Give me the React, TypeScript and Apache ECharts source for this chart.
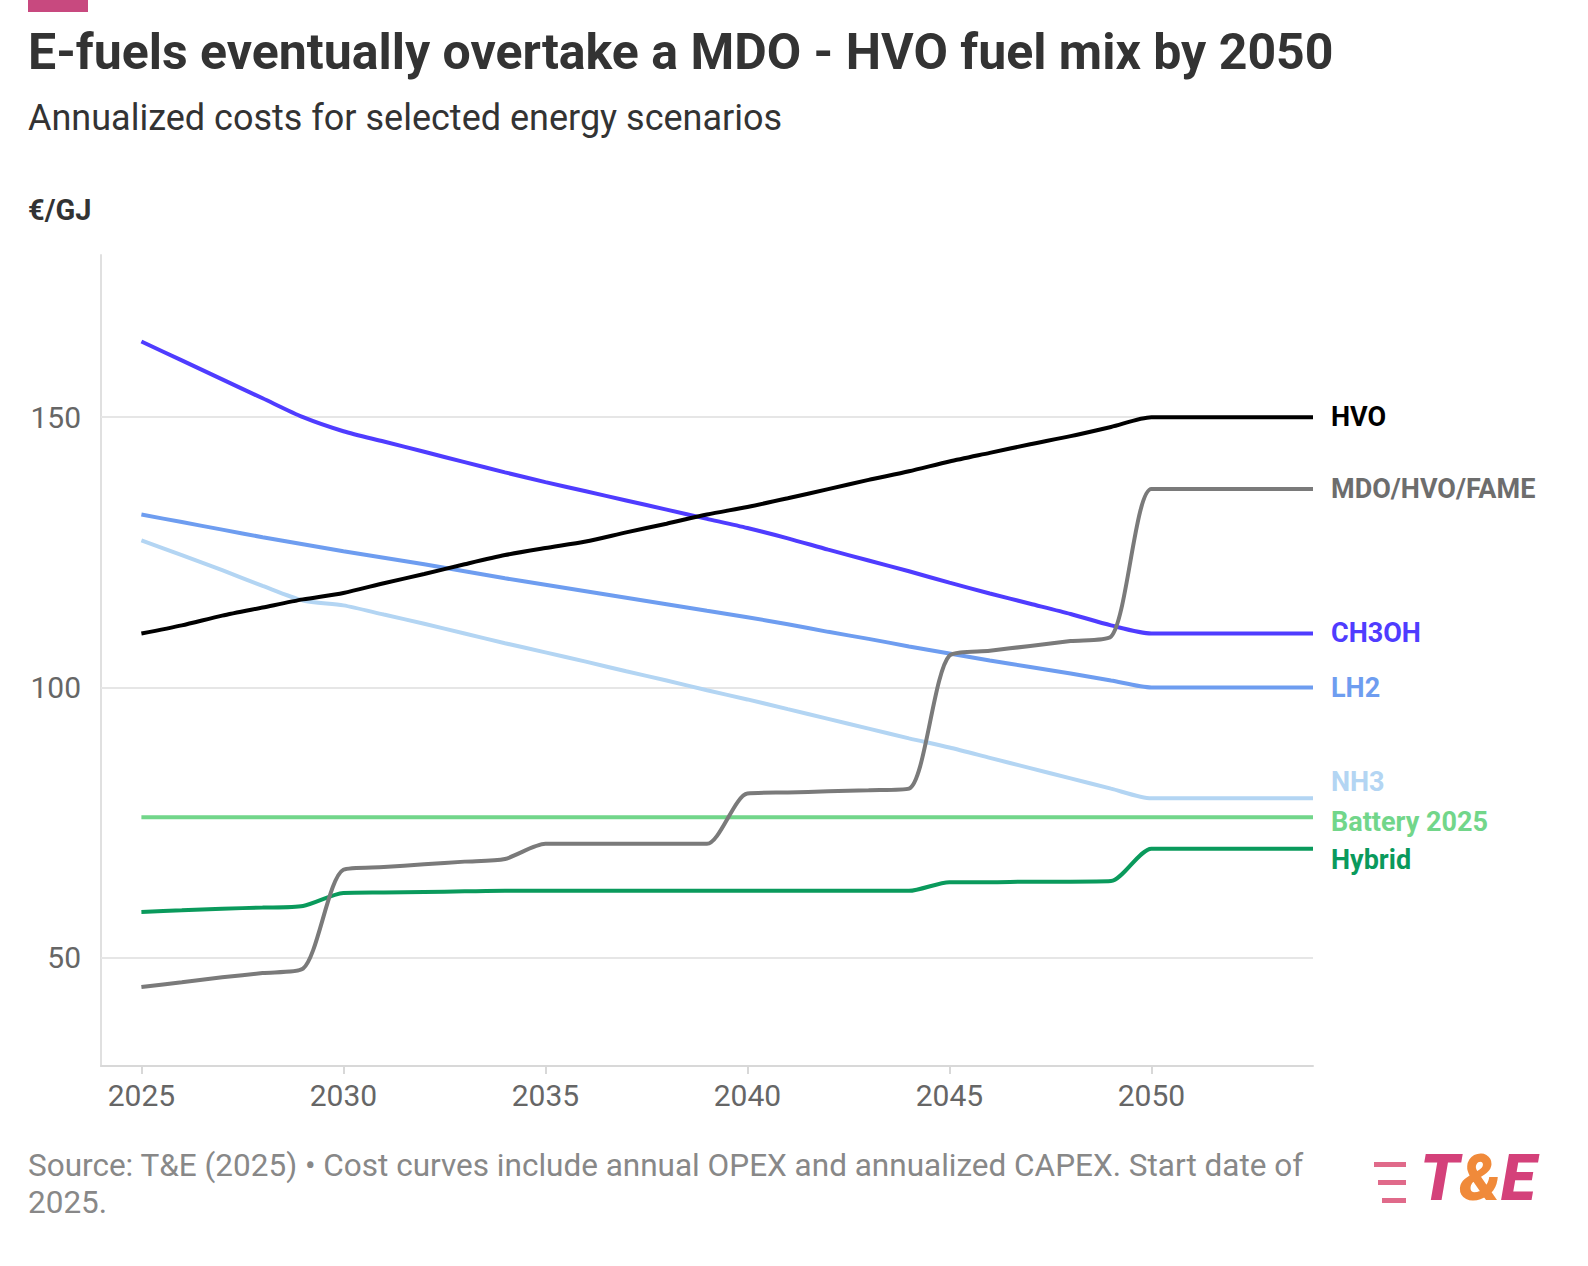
import { useEffect, useRef } from "react";
import * as echarts from "echarts";

const years = [2025, 2026, 2027, 2028, 2029, 2030, 2031, 2032, 2033, 2034, 2035, 2036, 2037, 2038, 2039, 2040, 2041, 2042, 2043, 2044, 2045, 2046, 2047, 2048, 2049, 2050, 2051, 2052, 2053, 2054];

const hvo = [110, 111.5, 113.3, 114.8, 116.3, 117.5, 119.3, 121, 122.8, 124.5, 125.8, 127, 128.7, 130.3, 132, 133.4, 135, 136.7, 138.4, 140, 141.8, 143.4, 145, 146.5, 148.2, 150, 150, 150, 150, 150];
const ch3oh = [164, 160.5, 157, 153.5, 150, 147.4, 145.5, 143.6, 141.7, 139.8, 138, 136.3, 134.6, 132.9, 131.2, 129.5, 127.6, 125.5, 123.5, 121.5, 119.4, 117.4, 115.5, 113.6, 111.5, 110, 110, 110, 110, 110];
const lh2 = [132, 130.6, 129.2, 127.8, 126.5, 125.2, 124, 122.8, 121.5, 120.2, 119, 117.8, 116.6, 115.4, 114.2, 113, 111.7, 110.3, 109, 107.6, 106.3, 105, 103.8, 102.6, 101.3, 100, 100, 100, 100, 100];
const nh3 = [127.2, 124.5, 121.7, 118.8, 116.1, 115.2, 113.5, 111.8, 110, 108.2, 106.5, 104.8, 103, 101.3, 99.5, 97.8, 96, 94.2, 92.4, 90.6, 88.9, 87, 85.1, 83.2, 81.3, 79.5, 79.5, 79.5, 79.5, 79.5];
const battery = years.map(() => 76);
const hybrid = [58.5, 58.8, 59.1, 59.3, 59.6, 62, 62.1, 62.2, 62.3, 62.4, 62.4, 62.4, 62.4, 62.4, 62.4, 62.4, 62.4, 62.4, 62.4, 62.4, 64, 64, 64.1, 64.1, 64.2, 70.2, 70.2, 70.2, 70.2, 70.2];
const mdo = [44.6, 45.5, 46.4, 47.2, 48, 66.3, 66.8, 67.3, 67.8, 68.3, 71.1, 71.1, 71.1, 71.1, 71.1, 80.4, 80.6, 80.8, 81, 81.3, 105.9, 106.8, 107.7, 108.6, 109.4, 136.7, 136.7, 136.7, 136.7, 136.7];

const xTicks = [2025, 2030, 2035, 2040, 2045, 2050];
const yTicks = [50, 100, 150];

const seriesDefs = [
  { name: "HVO", data: hvo, color: "#000000", labelColor: "#000000", dy: 0 },
  { name: "MDO/HVO/FAME", data: mdo, color: "#7a7a7a", labelColor: "#6d6d6d", dy: 0 },
  { name: "CH3OH", data: ch3oh, color: "#4f3cff", labelColor: "#4f3cff", dy: 0 },
  { name: "LH2", data: lh2, color: "#6e9df0", labelColor: "#6e9df0", dy: 0 },
  { name: "NH3", data: nh3, color: "#b3d5f3", labelColor: "#b3d5f3", dy: -16 },
  { name: "Battery 2025", data: battery, color: "#72d68a", labelColor: "#72d68a", dy: 5 },
  { name: "Hybrid", data: hybrid, color: "#0a9a5c", labelColor: "#0a9a5c", dy: 11 },
];

const FONT = "Roboto, 'Noto Sans', sans-serif";

export default function App() {
  const ref = useRef<HTMLDivElement>(null);
  useEffect(() => {
    if (!ref.current) return;
    const chart = echarts.init(ref.current, undefined, { renderer: "svg" });
    const series: any[] = seriesDefs.map((s, i) => ({
      name: s.name,
      type: "line",
      smooth: 0.25,
      showSymbol: false,
      data: s.data.map((v, k) => [years[k], v]),
      lineStyle: { width: 4, color: s.color },
      z: 10 - i,
      endLabel: {
        show: true,
        formatter: s.name,
        color: s.labelColor,
        fontFamily: FONT,
        fontWeight: "bold",
        fontSize: 27,
        offset: [10, s.dy],
      },
    }));
    series.push({
      type: "line",
      data: [],
      silent: true,
      markLine: {
        symbol: "none",
        silent: true,
        label: { show: false },
        lineStyle: { color: "#e6e6e6", width: 2, type: "solid" },
        data: yTicks.map((v) => ({ yAxis: v })),
      },
      z: 1,
    });
    chart.setOption({
      animation: false,
      textStyle: { fontFamily: FONT },
      grid: { left: 101, right: 275, top: 255, bottom: 200 },
      xAxis: {
        type: "value",
        min: 2024,
        max: 2054,
        axisLine: { show: true, lineStyle: { color: "#d8d8d8", width: 2 } },
        axisTick: { show: true, customValues: xTicks, length: 8, lineStyle: { color: "#d8d8d8", width: 2 } },
        axisLabel: { customValues: xTicks, formatter: (v: number) => String(v), color: "#666", fontSize: 30, margin: 14, fontFamily: FONT },
        splitLine: { show: false },
      },
      yAxis: {
        type: "value",
        min: 30,
        max: 180,
        axisLine: { show: true, lineStyle: { color: "#e0e0e0", width: 2 } },
        axisTick: { show: false },
        axisLabel: { customValues: yTicks, color: "#666", fontSize: 30, margin: 20, fontFamily: FONT },
        splitLine: { show: false },
      },
      series,
      graphic: [
        { type: "rect", shape: { x: 28, y: 0, width: 60, height: 12 }, style: { fill: "#c8497f" } },
        { type: "text", left: 28, top: 27, style: { text: "E-fuels eventually overtake a MDO - HVO fuel mix by 2050", font: `bold 50px ${FONT}`, fill: "#333" } },
        { type: "text", left: 28, top: 100, style: { text: "Annualized costs for selected energy scenarios", font: `36px ${FONT}`, fill: "#333" } },
        { type: "text", left: 28, top: 195, style: { text: "€/GJ", font: `bold 29px ${FONT}`, fill: "#333" } },
        { type: "text", left: 28, top: 1147, style: { text: "Source: T&E (2025) • Cost curves include annual OPEX and annualized CAPEX. Start date of\n2025.", font: `31.5px ${FONT}`, fill: "#888", lineHeight: 37 } },
        { type: "rect", shape: { x: 1374, y: 1162, width: 32, height: 5 }, style: { fill: "#e06a8a" } },
        { type: "rect", shape: { x: 1378, y: 1180, width: 28, height: 5 }, style: { fill: "#e06a8a" } },
        { type: "rect", shape: { x: 1382, y: 1198, width: 24, height: 5 }, style: { fill: "#e06a8a" } },
        { type: "text", left: 1420, top: 1146, style: { text: "{a|T}{b|&}{a|E}", rich: { a: { font: `italic 900 64px ${FONT}`, fill: "#d4417a" }, b: { font: `italic 900 64px ${FONT}`, fill: "#f08a3a" } } } },
      ],
    });
    return () => chart.dispose();
  }, []);
  return <div ref={ref} style={{ position: "fixed", left: 0, top: 0, width: 1588, height: 1266, background: "#fff" }} />;
}
